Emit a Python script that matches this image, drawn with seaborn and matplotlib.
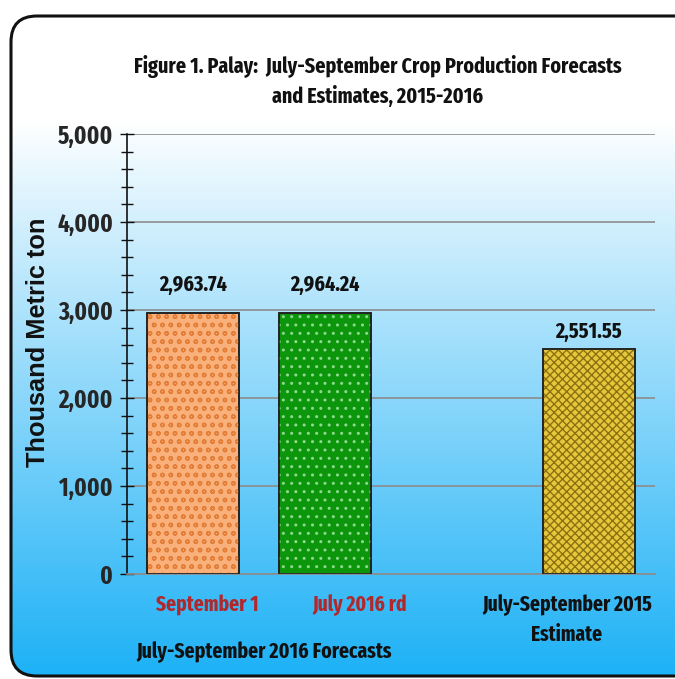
import numpy as np
import matplotlib
matplotlib.use("Agg")
import matplotlib.pyplot as plt
import matplotlib.transforms as mtransforms
from matplotlib.patches import FancyBboxPatch, Rectangle
from matplotlib.ticker import MultipleLocator, FuncFormatter
from matplotlib import font_manager as fm
from matplotlib.font_manager import FontProperties
from matplotlib.textpath import TextPath
import seaborn as sns

# ---------------- data ----------------
categories = ["September 1", "July 2016 rd", "July-September 2015\nEstimate"]
values = [2963.74, 2964.24, 2551.55]
positions = [0, 1, 3]
group_label = "July-September 2016 Forecasts"
title_lines = ["Figure 1. Palay:  July-September Crop Production Forecasts",
               "and Estimates, 2015-2016"]
ylabel = "Thousand Metric ton"
yticks = [0, 1000, 2000, 3000, 4000, 5000]

# ---------------- style ----------------
face_colors = ["#F9B07A", "#0B960B", "#E6C63A"]
hatch_colors = ["#E27E38", "#8FD88F", "#8A7212"]
hatches = ["oo", "..", "xxxx"]
label_colors = ["#B0282C", "#B0282C", "#111111"]
label_dx_px = [14, 35, -22]
value_base_px = [291, 291, 338]

sns.set_theme(style="white")


# choose a bold condensed sans whose proportions are closest to the reference title
def _w(v):
    if isinstance(v, str):
        return fm.weight_dict.get(v, 400)
    return v


bold_names = set(f.name for f in fm.fontManager.ttflist if _w(f.weight) >= 600)
candidates = ["Liberation Sans Narrow", "Arial Narrow", "Nimbus Sans Narrow",
              "Pragati Narrow", "Archivo Narrow", "Roboto Condensed", "PT Sans Narrow",
              "Fira Sans Condensed", "Fira Sans Extra Condensed", "Barlow Condensed",
              "Barlow Semi Condensed", "Asap Condensed", "Encode Sans Condensed",
              "Encode Sans Compressed", "IBM Plex Sans Condensed", "Sofia Sans Condensed",
              "Sofia Sans Extra Condensed", "Saira Condensed", "Saira Extra Condensed",
              "Open Sans Condensed"]
target_ratio = 485 / 25.5
best, best_err = "Liberation Sans", 1e9
for name in candidates:
    if name not in bold_names:
        continue
    try:
        fp = FontProperties(family=name, weight="bold")
        fm.findfont(fp, fallback_to_default=False)
        ext = TextPath((0, 0), title_lines[0], prop=fp, size=100).get_extents()
        err = abs(ext.width / ext.height - target_ratio)
    except Exception:
        continue
    if err < best_err:
        best, best_err = name, err

NARROW = [best, "Liberation Sans", "DejaVu Sans"]
ARIAL = ["Liberation Sans", "DejaVu Sans"]
plt.rcParams["font.family"] = NARROW
plt.rcParams["hatch.linewidth"] = 1.0

W, H = 675, 679
fig = plt.figure(figsize=(W / 100, H / 100), dpi=100)

# background gradient inside rounded frame
bg = fig.add_axes([0, 0, 1, 1], zorder=-5)
bg.set_xlim(0, W)
bg.set_ylim(H, 0)
bg.axis("off")
ys = np.linspace(0, 1, H)
top = np.array([1.0, 1.0, 1.0])
bot = np.array([0x1C, 0xB1, 0xF6]) / 255.0
t = np.clip((ys - 0.18) / 0.82, 0, 1) ** 0.95
grad = top[None, :] * (1 - t[:, None]) + bot[None, :] * t[:, None]
grad = np.repeat(grad[:, None, :], 2, axis=1)
im = bg.imshow(grad, extent=[0, W, H, 0], aspect="auto", interpolation="bilinear")
frame = FancyBboxPatch((11, 16), 720, 660, boxstyle="round,pad=0,rounding_size=26",
                       transform=bg.transData, fc="none", ec="#111111", lw=2.2)
bg.add_patch(frame)
im.set_clip_path(frame)

# main axes
ax = fig.add_axes([127 / W, 1 - 574 / H, 528 / W, 440 / H])
ax.patch.set_alpha(0)

palette = dict(zip(categories, face_colors))
sns.barplot(x=positions, y=values, hue=categories, palette=palette, native_scale=True,
            width=0.69, dodge=False, legend=False, ax=ax, saturation=1,
            edgecolor="#222222", linewidth=1.2, errorbar=None)

ax.set_xlim(-0.5, 3.5)
ax.set_ylim(0, 5000)

bars = sorted(ax.patches, key=lambda p: p.get_x())
for p, hc, hatch in zip(bars, hatch_colors, hatches):
    p.set_zorder(2)
    ov = Rectangle((p.get_x(), p.get_y()), p.get_width(), p.get_height(),
                   fill=False, hatch=hatch, edgecolor=hc, linewidth=0, zorder=2.5)
    ax.add_patch(ov)
    outline = Rectangle((p.get_x(), p.get_y()), p.get_width(), p.get_height(),
                        fill=False, edgecolor="#222222", linewidth=1.2, zorder=3)
    ax.add_patch(outline)

# value labels (baseline placed in figure pixels)
val_texts = []
for x, v, yb in zip(positions, values, value_base_px):
    tr = mtransforms.blended_transform_factory(ax.transData, fig.transFigure)
    val_texts.append(ax.text(x, 1 - yb / H, f"{v:,.2f}", transform=tr,
                             ha="center", va="baseline", fontsize=17,
                             fontweight="bold", color="#111111"))

# y axis
ax.set_yticks(yticks)
ax.yaxis.set_minor_locator(MultipleLocator(200))
ax.yaxis.set_major_formatter(FuncFormatter(lambda v, _: f"{int(v):,}"))
ax.tick_params(axis="y", which="both", direction="inout", left=True, color="#111111",
               width=1.0)
ax.tick_params(axis="y", which="major", length=10, pad=5, labelsize=17)
ax.tick_params(axis="y", which="minor", length=8)
ax.grid(axis="y", which="major", color="#8C8C8C", linewidth=1.2, zorder=0)
ax.set_axisbelow(True)
for s in ["top", "right"]:
    ax.spines[s].set_visible(False)
ax.spines["left"].set_color("#111111")
ax.spines["left"].set_linewidth(1.2)
ax.spines["bottom"].set_color("#8C8C8C")
ax.spines["bottom"].set_linewidth(1.2)

# x axis labels
ax.set_xticks(positions)
ax.set_xticklabels(categories)
ax.tick_params(axis="x", length=0, pad=15, labelsize=15)
ax.set_xlabel("")
ax.set_ylabel("")

# group label
trans = mtransforms.blended_transform_factory(ax.transData, fig.transFigure)
grp = ax.text((positions[0] + positions[1]) / 2, 1 - 652 / H, group_label,
              transform=trans + mtransforms.ScaledTranslation(5 / 100, 0, fig.dpi_scale_trans),
              ha="center", va="center", fontsize=15, fontweight="bold", color="#111111")

# y label
ylab = fig.text(38 / W, 1 - 342 / H, ylabel, rotation=90, ha="center", va="center",
                fontsize=18, fontweight="bold", family=ARIAL, color="#111111")

# title (two lines, centred)
title_texts = [fig.text(378 / W, 1 - y / H, line, ha="center", va="center", fontsize=15,
                        fontweight="bold", color="#111111")
               for line, y in zip(title_lines, [67, 96])]

# ---- fit font sizes to the reference text widths ----
fig.canvas.draw()
r = fig.canvas.get_renderer()


def fit(objs, ref_obj, target_px, vertical=False):
    bb = ref_obj.get_window_extent(r)
    cur = bb.height if vertical else bb.width
    s = ref_obj.get_fontsize() * target_px / cur
    for o in objs:
        o.set_fontsize(s)
    return s


fit(title_texts, title_texts[0], 487)
fit(val_texts, val_texts[0], 68)
ytl = ax.get_yticklabels()
ysz = fit(ytl, ytl[-1], 52)
xtl = ax.get_xticklabels()
xsz = fit(xtl, xtl[0], 99)
fit([grp], grp, 256)
fit([ylab], ylab, 250, vertical=True)
ax.tick_params(axis="y", which="major", labelsize=ysz)
ax.tick_params(axis="x", labelsize=xsz)

for lbl in ax.get_yticklabels():
    lbl.set_fontweight("bold")
for lbl, c, dx in zip(ax.get_xticklabels(), label_colors, label_dx_px):
    lbl.set_color(c)
    lbl.set_fontweight("bold")
    lbl.set_verticalalignment("top")
    lbl.set_transform(lbl.get_transform() +
                      mtransforms.ScaledTranslation(dx / 100, 0, fig.dpi_scale_trans))

# adjust line spacing of the two-line label so lines sit ~31 px apart
fig.canvas.draw()
xtl = ax.get_xticklabels()
h1 = xtl[0].get_window_extent(r).height
h2 = xtl[-1].get_window_extent(r).height
ls0 = getattr(xtl[-1], "_linespacing", 1.2)
gap = h2 - h1
if gap > 0:
    xtl[-1].set_linespacing(ls0 * 31 / gap)

fig.savefig("out.png", dpi=100)
